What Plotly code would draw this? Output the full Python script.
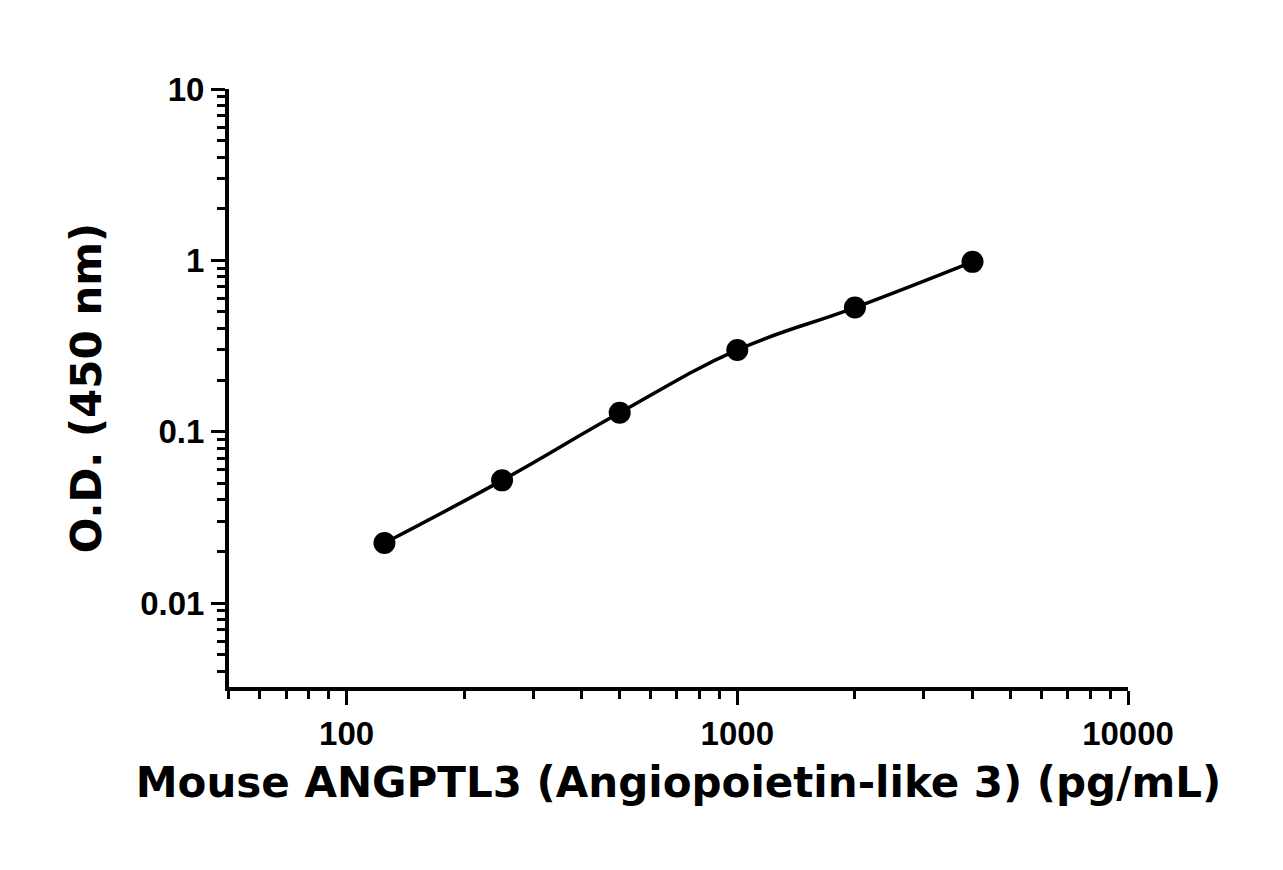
import plotly.graph_objects as go

conc = [125, 250, 500, 1000, 2000, 4000]
od = [0.0224, 0.052, 0.129, 0.30, 0.53, 0.98]
x_ticks = [100, 1000, 10000]
x_tick_labels = ["<b>100</b>", "<b>1000</b>", "<b>10000</b>"]
y_ticks = [0.01, 0.1, 1, 10]
y_tick_labels = ["<b>0.01</b>", "<b>0.1</b>", "<b>1</b>", "<b>10</b>"]

fig = go.Figure()
fig.add_trace(go.Scatter(x=conc, y=od, mode="lines+markers",
    line=dict(color="black", width=3.5, shape="spline", smoothing=1.2),
    marker=dict(color="black", size=22), showlegend=False))

tickfont = dict(family="Liberation Sans Narrow, Arial Narrow, Liberation Sans", size=33, color="black")
titlefont = dict(family="DejaVu Sans, Liberation Sans", size=42, color="black")
fig.update_xaxes(type="log", range=[1.699, 4.0], tickvals=x_ticks, ticktext=x_tick_labels,
    showgrid=False, zeroline=False, showline=True, linecolor="black", linewidth=4,
    ticks="outside", ticklen=14, tickwidth=3, tickcolor="black", tickfont=tickfont,
    minor=dict(ticks="outside", ticklen=8, tickwidth=2.5, tickcolor="black", dtick="D1", showgrid=False),
    title=dict(text="<b>Mouse ANGPTL3 (Angiopoietin-like 3) (pg/mL)</b>", font=titlefont, standoff=18))
fig.update_yaxes(type="log", range=[-2.49, 1.0], tickvals=y_ticks, ticktext=y_tick_labels,
    showgrid=False, zeroline=False, showline=True, linecolor="black", linewidth=4,
    ticks="outside", ticklen=14, tickwidth=3, tickcolor="black", tickfont=tickfont,
    minor=dict(ticks="outside", ticklen=8, tickwidth=2.5, tickcolor="black", dtick="D1", showgrid=False),
    title=dict(text="<b>O.D. (450 nm)</b>", font=titlefont, standoff=26))
fig.update_layout(width=1283, height=870, plot_bgcolor="white", paper_bgcolor="white",
    margin=dict(l=221, r=163, t=81, b=191), font=tickfont)
fig.write_html("out.html")
